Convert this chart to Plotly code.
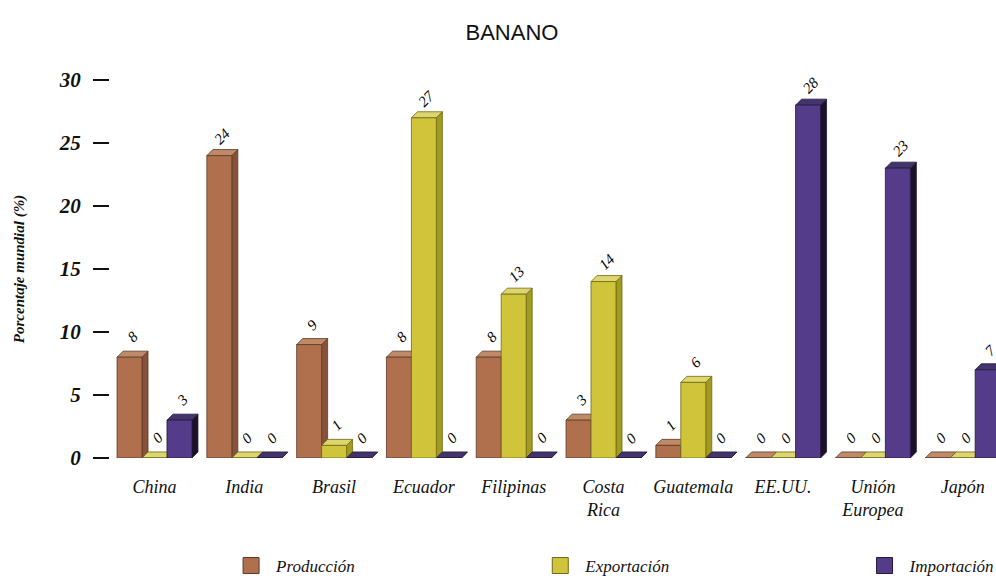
import plotly.graph_objects as go

# ---- data -------------------------------------------------------------
paises = ["China", "India", "Brasil", "Ecuador", "Filipinas", "Costa<br>Rica",
          "Guatemala", "EE.UU.", "Unión<br>Europea", "Japón"]
produccion = [8, 24, 9, 8, 8, 3, 1, 0, 0, 0]
exportacion = [0, 0, 1, 27, 13, 14, 6, 0, 0, 0]
importacion = [3, 0, 0, 0, 0, 0, 0, 28, 23, 7]
y_ticks = [0, 5, 10, 15, 20, 25, 30]

# ---- styling ----------------------------------------------------------
series = [
    # name, values, front, top, side, outline, legend id, legend x
    ("Producción", produccion, "#b0704e", "#c08a68", "#86533a", "#5a3826", "legend", 0.131),
    ("Exportación", exportacion, "#cfc43a", "#ddd56e", "#a39a22", "#6e6814", "legend2", 0.480),
    ("Importación", importacion, "#553c8a", "#44346e", "#1a1228", "#231838", "legend3", 0.846),
]
BAR_W = 0.278      # front-face width, in category units
DX = 0.067         # depth offset along x (category units)
DY = 0.48          # depth offset along y (value units)
serif = "Liberation Serif"

x_idx = list(range(len(paises)))
fig = go.Figure()

# depth faces (right side + top) on the base axes, drawn below the fronts
for k, (name, vals, front, top, side, edge, leg, lx) in enumerate(series):
    off = (k - 1.5) * BAR_W
    sx, sy, tx, ty = [], [], [], []
    for i, v in zip(x_idx, vals):
        x0 = i + off
        x1 = x0 + BAR_W
        sx += [x1, x1, x1 + DX, x1 + DX, x1, None]
        sy += [0, v, v + DY, DY, 0, None]
        tx += [x0, x0 + DX, x1 + DX, x1, x0, None]
        ty += [v, v + DY, v + DY, v, v, None]
    fig.add_trace(go.Scatter(x=sx, y=sy, mode="lines", fill="toself",
                             fillcolor=side, line=dict(color=edge, width=0.8),
                             hoverinfo="skip", showlegend=False))
    fig.add_trace(go.Scatter(x=tx, y=ty, mode="lines", fill="toself",
                             fillcolor=top, line=dict(color=edge, width=0.8),
                             hoverinfo="skip", showlegend=False))

# front faces on an overlaid axis pair so they sit above the depth faces
for k, (name, vals, front, top, side, edge, leg, lx) in enumerate(series):
    fig.add_trace(go.Bar(x=x_idx, y=vals, width=BAR_W, offset=(k - 1.5) * BAR_W,
                         marker=dict(color=front, line=dict(color=edge, width=0.8)),
                         xaxis="x2", yaxis="y2", name=name, showlegend=False))

# one legend per series, spread along the bottom
legend_font = dict(family=serif, size=17, color="#111", style="italic")
legends = {}
for name, vals, front, top, side, edge, leg, lx in series:
    fig.add_trace(go.Scatter(x=[None], y=[None], mode="markers", name=name,
                             legend=leg,
                             marker=dict(symbol="square", size=16, color=front,
                                         line=dict(color=edge, width=1))))
    legends[leg] = dict(x=lx, xanchor="left", y=-0.2857, yanchor="middle",
                        orientation="h", itemwidth=40, font=legend_font,
                        bgcolor="rgba(0,0,0,0)")

# value labels, rotated, above each bar
annotations = []
for k, (name, vals, front, top, side, edge, leg, lx) in enumerate(series):
    off = (k - 1.5) * BAR_W
    for i, v in zip(x_idx, vals):
        annotations.append(dict(
            x=i + off + BAR_W / 2 + DX / 2, y=v + DY, xref="x", yref="y",
            text=str(v), showarrow=False, textangle=-45, yshift=14,
            font=dict(family=serif, size=15, color="#000", style="italic")))

x_range = [-0.4955, 9.371]
y_range = [0, 30]

fig.update_layout(
    width=996, height=578,
    margin=dict(l=110, r=0, t=80, b=120, autoexpand=False),
    paper_bgcolor="white", plot_bgcolor="white",
    barmode="overlay",
    title=dict(text="BANANO", x=0.514, xref="container", xanchor="center",
               y=1 - 32 / 578, yref="container", yanchor="middle",
               font=dict(family="Liberation Sans", size=22, color="#111")),
    xaxis=dict(range=x_range, tickmode="array", tickvals=x_idx, ticktext=paises,
               showgrid=False, zeroline=False, showline=False, ticks="",
               ticklabelstandoff=16,
               tickfont=dict(family=serif, size=18, color="#111", style="italic")),
    yaxis=dict(range=y_range, tickmode="array", tickvals=y_ticks,
               showgrid=False, zeroline=False, showline=False,
               ticks="outside", ticklen=16, tickwidth=1.5, tickcolor="#111",
               ticklabelstandoff=8,
               tickfont=dict(family=serif, size=21, color="#111",
                             style="italic", weight="bold"),
               title=dict(text="Porcentaje mundial (%)", standoff=30,
                          font=dict(family=serif, size=15, color="#111",
                                    style="italic", weight="bold"))),
    xaxis2=dict(overlaying="x", matches="x", range=x_range, visible=False),
    yaxis2=dict(overlaying="y", matches="y", range=y_range, visible=False),
    annotations=annotations,
    **legends,
)

fig.write_html("out.html")
